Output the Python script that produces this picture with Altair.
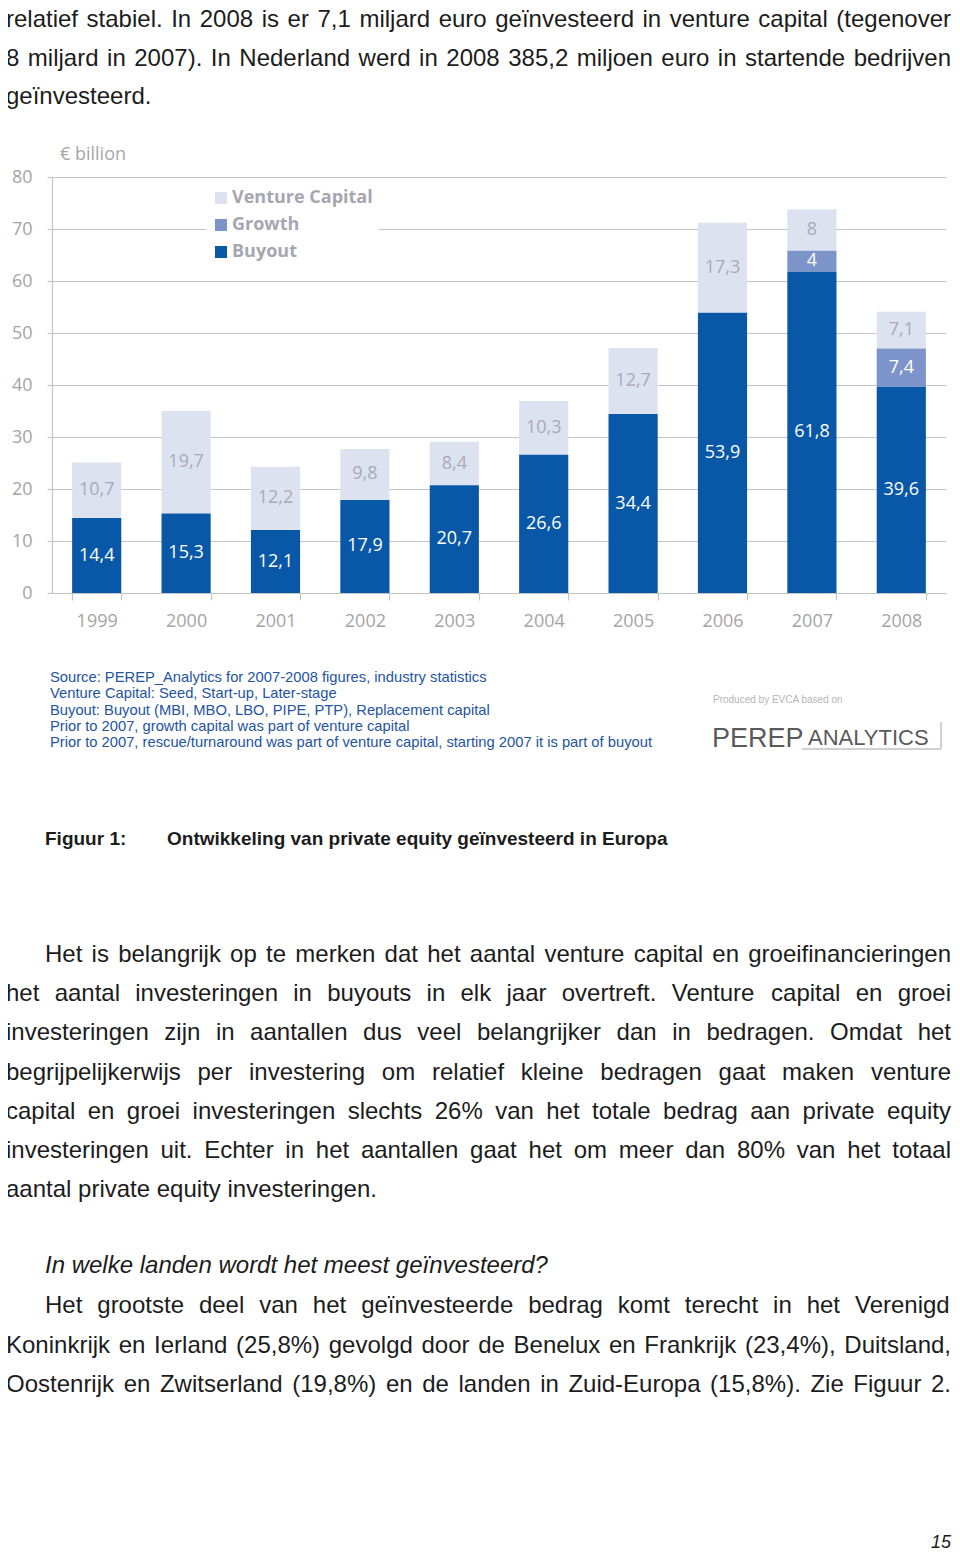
import altair as alt
import pandas as pd

# ---------------- chart data ----------------
years = ["1999", "2000", "2001", "2002", "2003", "2004", "2005", "2006", "2007", "2008"]
buyout = [14.4, 15.3, 12.1, 17.9, 20.7, 26.6, 34.4, 53.9, 61.8, 39.6]
growth = [0, 0, 0, 0, 0, 0, 0, 0, 4, 7.4]
venture = [10.7, 19.7, 12.2, 9.8, 8.4, 10.3, 12.7, 17.3, 8, 7.1]
series_names = ["Venture Capital", "Growth", "Buyout"]
series_colors = ["#dde2f0", "#7d94ca", "#0958a8"]
stack_order = [2, 1, 0]
y_ticks = [0, 10, 20, 30, 40, 50, 60, 70, 80]
unit_label = "€ billion"

# ---------------- page text ----------------
top_lines = [
    "relatief stabiel. In 2008 is er 7,1 miljard euro geïnvesteerd in venture capital (tegenover",
    "8 miljard in 2007). In Nederland werd in 2008 385,2 miljoen euro in startende bedrijven",
    "geïnvesteerd.",
]
notes = [
    "Source: PEREP_Analytics for 2007-2008 figures, industry statistics",
    "Venture Capital: Seed, Start-up, Later-stage",
    "Buyout: Buyout (MBI, MBO, LBO, PIPE, PTP), Replacement capital",
    "Prior to 2007, growth capital was part of venture capital",
    "Prior to 2007, rescue/turnaround was part of venture capital, starting 2007 it is part of buyout",
]
logo_small = "Produced by EVCA based on"
logo_big = "PEREP"
logo_mid = "ANALYTICS"
caption_label = "Figuur 1:"
caption_text = "Ontwikkeling van private equity geïnvesteerd in Europa"
body_lines = [
    "Het is belangrijk op te merken dat het aantal venture capital en groeifinancieringen",
    "het aantal investeringen in buyouts in elk jaar overtreft. Venture capital en groei",
    "investeringen zijn in aantallen dus veel belangrijker dan in bedragen. Omdat het",
    "begrijpelijkerwijs per investering om relatief kleine bedragen gaat maken venture",
    "capital en groei investeringen slechts 26% van het totale bedrag aan private equity",
    "investeringen uit. Echter in het aantallen gaat het om meer dan 80% van het totaal",
    "aantal private equity investeringen.",
]
question = "In welke landen wordt het meest geïnvesteerd?"
body2_lines = [
    "Het grootste deel van het geïnvesteerde bedrag komt terecht in het Verenigd",
    "Koninkrijk en Ierland (25,8%) gevolgd door de Benelux en Frankrijk (23,4%), Duitsland,",
    "Oostenrijk en Zwitserland (19,8%) en de landen in Zuid-Europa (15,8%). Zie Figuur 2.",
]
page_number = "15"

# ---------------- layout (page pixels) ----------------
PLOT_X0, PLOT_Y0, PLOT_W, PLOT_H = 52, 177, 894, 416
SVG_W, SVG_H = 944, 1546
RIGHT = 951


def px(x):
    return x - PLOT_X0


def py(y):
    return y - PLOT_Y0


# Helvetica / Liberation Sans advance widths (1/1000 em)
REG = {" ": 278, ".": 278, ",": 278, "(": 333, ")": 333, "%": 889, "-": 333, ":": 278,
       "?": 556, "/": 278, "_": 556, "ë": 556, "ï": 278, "€": 556}
for ch, w in zip("abcdefghijklmnopqrstuvwxyz",
                 [556, 556, 500, 556, 556, 278, 556, 556, 222, 222, 500, 222, 833, 556, 556, 556, 556,
                  333, 500, 278, 556, 500, 722, 500, 500, 500]):
    REG[ch] = w
for ch, w in zip("ABCDEFGHIJKLMNOPQRSTUVWXYZ",
                 [667, 667, 722, 722, 667, 611, 778, 722, 278, 500, 667, 556, 833, 722, 778, 667, 778,
                  722, 667, 611, 722, 667, 944, 667, 667, 611]):
    REG[ch] = w


def tw(s, size, table=REG):
    return sum(table.get(c, 556) for c in s) * size / 1000.0


def layout_line(line, x0, x1, base, size, justify):
    if not justify:
        return [dict(px=px(x0), py=py(base), text=line)]
    words = line.split(" ")
    widths = [tw(w, size) for w in words]
    gap = (x1 - x0 - sum(widths)) / (len(words) - 1)
    rows, x = [], x0
    for w, wd in zip(words, widths):
        rows.append(dict(px=px(x), py=py(base), text=w))
        x += wd + gap
    return rows


BODY_SIZE = 24
body_rows = []
# top paragraph
for i, (ln, b) in enumerate(zip(top_lines, [27, 65.5, 104])):
    body_rows += layout_line(ln, 6, RIGHT, b, BODY_SIZE, i < 2)
# paragraph 1
for i, ln in enumerate(body_lines):
    x0 = 45 if i == 0 else 6
    body_rows += layout_line(ln, x0, RIGHT, 962 + 39.2 * i, BODY_SIZE, i < len(body_lines) - 1)
# paragraph 2
for i, ln in enumerate(body2_lines):
    x0 = 45 if i == 0 else 6
    body_rows += layout_line(ln, x0, RIGHT, 1313 + 39.5 * i, BODY_SIZE, True)
body_df = pd.DataFrame(body_rows)

question_df = pd.DataFrame([dict(px=px(45), py=py(1273), text=question)])
caption_df = pd.DataFrame([dict(px=px(45), py=py(845), text=caption_label),
                           dict(px=px(167), py=py(845), text=caption_text)])
NOTE_SIZE = round(602 / tw(notes[4], 1), 2)
notes_df = pd.DataFrame([dict(px=px(50), py=py(682 + 16.3 * i), text=t) for i, t in enumerate(notes)])
page_df = pd.DataFrame([dict(px=px(RIGHT), py=py(1548), text=page_number)])
unit_df = pd.DataFrame([dict(px=px(60), py=py(160), text=unit_label)])
logo_small_df = pd.DataFrame([dict(px=px(713), py=py(703), text=logo_small)])
logo_big_df = pd.DataFrame([dict(px=px(712), py=py(747), text=logo_big)])
logo_mid_df = pd.DataFrame([dict(px=px(808), py=py(745), text=logo_mid)])
logo_lines_df = pd.DataFrame([
    dict(x1=px(802), x2=px(941), y1=py(749), y2=py(749)),
    dict(x1=px(941), x2=px(941), y1=py(722), y2=py(749)),
])

# ---------------- bar data ----------------
def fmt(v):
    return f"{v:g}".replace(".", ",")


rows = []
for i, yr in enumerate(years):
    for k, (name, vals) in enumerate(zip(series_names, [venture, growth, buyout])):
        v = vals[i]
        if v > 0:
            rows.append(dict(year=yr, series=name, value=v, ord=stack_order[k], label=fmt(v)))
bars_df = pd.DataFrame(rows)

GRID = "#c4c4c4"
AXT = "#a4a4a4"
CHART_FONT = "Open Sans"

base = alt.Chart(bars_df)
bars = base.mark_bar().encode(
    x=alt.X("year:N", sort=years, title=None,
            scale=alt.Scale(paddingInner=0.45, paddingOuter=0.225),
            axis=alt.Axis(tickBand="extent", labelAngle=0, labelFont=CHART_FONT, labelFontSize=18,
                          labelColor=AXT, labelPadding=12, tickSize=7, tickColor=GRID, tickWidth=1.2,
                          domainColor=GRID, domainWidth=1.2, grid=False)),
    y=alt.Y("value:Q", stack="zero", title=None,
            scale=alt.Scale(domain=[0, 80], nice=False),
            axis=alt.Axis(values=y_ticks, grid=True, gridColor=GRID, gridWidth=1.2, tickSize=5,
                          tickColor=GRID, tickWidth=1.2, domainColor=GRID, domainWidth=1.2,
                          labelFont=CHART_FONT, labelFontSize=18, labelColor=AXT, labelPadding=15)),
    color=alt.Color("series:N", scale=alt.Scale(domain=series_names, range=series_colors),
                    legend=alt.Legend(orient="none", legendX=154, legendY=6, title=None,
                                      direction="vertical", symbolType="square", symbolSize=144,
                                      symbolStrokeWidth=0, labelFont=CHART_FONT, labelFontSize=18,
                                      labelFontWeight="bold", labelColor="#a5a6b0", labelOffset=2,
                                      fillColor="white", padding=6, rowPadding=9)),
    order=alt.Order("ord:Q", sort="ascending"),
)

stacked = base.transform_stack(
    stack="value", groupby=["year"], as_=["y0", "y1"],
    sort=[alt.SortField("ord", order="ascending")],
).transform_calculate(mid="(datum.y0 + datum.y1) / 2")

lab_enc = dict(x=alt.X("year:N", sort=years, title=None),
               y=alt.Y("mid:Q", title=None),
               text="label:N")
labels_white = stacked.transform_filter("datum.series != 'Venture Capital'").mark_text(
    font=CHART_FONT, fontSize=18, baseline="middle", color="white").encode(**lab_enc)
labels_grey = stacked.transform_filter("datum.series == 'Venture Capital'").mark_text(
    font=CHART_FONT, fontSize=18, baseline="middle", color="#a8aab8").encode(**lab_enc)

core = alt.layer(bars, labels_white, labels_grey)


def text_layer(df, **mark):
    return alt.Chart(df).mark_text(baseline="alphabetic", **mark).encode(
        x=alt.X("px:Q", scale=None, axis=None),
        y=alt.Y("py:Q", scale=None, axis=None),
        text="text:N",
    )


layers = [
    core,
    text_layer(unit_df, align="left", font=CHART_FONT, fontSize=18, color="#a8a8a8"),
    text_layer(body_df, align="left", font="Liberation Sans", fontSize=BODY_SIZE, color="#1c1c1c"),
    text_layer(question_df, align="left", font="Liberation Sans", fontSize=BODY_SIZE,
               fontStyle="italic", color="#1c1c1c"),
    text_layer(caption_df, align="left", font="Liberation Sans", fontSize=19, fontWeight="bold",
               color="#1c1c1c"),
    text_layer(notes_df, align="left", font="Liberation Sans", fontSize=NOTE_SIZE, color="#24549f"),
    text_layer(page_df, align="right", font="Liberation Sans", fontSize=18, fontStyle="italic",
               color="#1c1c1c"),
    text_layer(logo_small_df, align="left", font="Liberation Sans", fontSize=10, color="#b5b5b5"),
    text_layer(logo_big_df, align="left", font="Liberation Sans", fontSize=27, color="#5a5a5a"),
    text_layer(logo_mid_df, align="left", font="Liberation Sans", fontSize=22, color="#5a5a5a"),
    alt.Chart(logo_lines_df).mark_rule(color="#c2c2c2", strokeWidth=1.5).encode(
        x=alt.X("x1:Q", scale=None, axis=None), x2="x2:Q",
        y=alt.Y("y1:Q", scale=None, axis=None), y2="y2:Q"),
]

chart = alt.layer(*layers).resolve_scale(x="independent", y="independent").properties(
    width=PLOT_W,
    height=PLOT_H,
    padding={"left": PLOT_X0 - 8, "top": PLOT_Y0 - 8,
             "right": SVG_W - (PLOT_X0 - 8) - PLOT_W,
             "bottom": SVG_H - (PLOT_Y0 - 8) - PLOT_H},
    autosize=alt.AutoSizeParams(type="none"),
    background="white",
).configure_view(strokeWidth=0)

chart.save("out.html", embed_options={"renderer": "svg", "actions": False})
